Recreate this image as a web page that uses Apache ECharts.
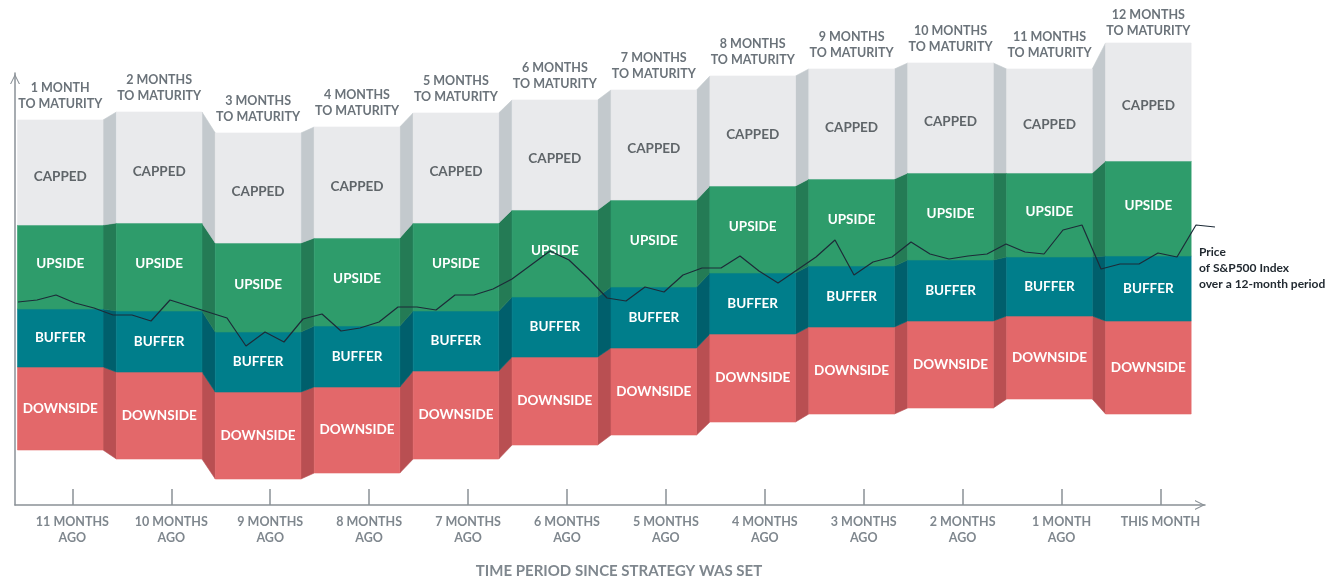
<!DOCTYPE html>
<html><head><meta charset="utf-8">
<script src="https://cdn.jsdelivr.net/npm/echarts@6/dist/echarts.min.js"></script>
<style>html,body{margin:0;padding:0;background:#fff}#c{width:1341px;height:578px}</style>
</head><body><div id="c"></div>
<script>
// ---- data ----
const maturityLabels = ['1 MONTH\nTO MATURITY','2 MONTHS\nTO MATURITY','3 MONTHS\nTO MATURITY','4 MONTHS\nTO MATURITY','5 MONTHS\nTO MATURITY','6 MONTHS\nTO MATURITY','7 MONTHS\nTO MATURITY','8 MONTHS\nTO MATURITY','9 MONTHS\nTO MATURITY','10 MONTHS\nTO MATURITY','11 MONTHS\nTO MATURITY','12 MONTHS\nTO MATURITY'];
const periodLabels = ['11 MONTHS\nAGO','10 MONTHS\nAGO','9 MONTHS\nAGO','8 MONTHS\nAGO','7 MONTHS\nAGO','6 MONTHS\nAGO','5 MONTHS\nAGO','4 MONTHS\nAGO','3 MONTHS\nAGO','2 MONTHS\nAGO','1 MONTH\nAGO','THIS MONTH'];
const segmentNames = ['DOWNSIDE','BUFFER','UPSIDE','CAPPED'];
// level boundaries per column (index level units)
const floorLevel  = [55, 46, 26, 32, 46, 60, 70, 83, 91, 97, 106, 91];
const downsideTop = [138,133,113,118,134,148,157,171,178,184,189,184];
const bufferTop   = [196,194,173,179,194,208,218,232,239,245,248,249];
const upsideTop   = [280,282,262,267,282,295,305,319,326,332,332,344];
const cappedTop   = [385,393,372,378,392,405,415,429,436,442,436,462];
// S&P500 price path over the 12-month period
const priceLevel = [203,205,210,202,197,190,190,184,205,199,193,187,159,173,163,186,191,174,177,183,198,198,195,210,210,216,226,240,254,245,227,207,204,218,213,230,237,237,249,234,222,235,248,265,230,243,248,263,251,246,249,251,261,253,251,275,280,236,241,241,252,248,280,278];

// ---- styles ----
const frontColors = ['#e3686a','#007e8b','#2e9c6b','#e9eaec'];
const sideColors  = ['#b94f52','#005f6c','#247b55','#c3c9cd'];
const labelColors = ['#ffffff','#ffffff','#ffffff','#5f6569'];
const labelShift  = [0, 0, -3, 4];
const FRONT_L = 0.555, FRONT_R = 0.31;
const FONT = 'Lato, "Open Sans", sans-serif';

const levels = [floorLevel, downsideTop, bufferTop, upsideTop, cappedTop];
const colData = floorLevel.map((_, i) => [i, floorLevel[i], downsideTop[i], bufferTop[i], upsideTop[i], cappedTop[i]]);

function renderItem(params, api) {
  const i = api.value(0);
  const lv = [api.value(1), api.value(2), api.value(3), api.value(4), api.value(5)];
  const xl = i - FRONT_L, xr = i + FRONT_R;
  const children = [];
  if (i < floorLevel.length - 1) {
    const nx = i + 1 - FRONT_L;
    const nl = levels.map(a => a[i + 1]);
    for (let s = 0; s < 4; s++) {
      children.push({
        type: 'polygon',
        shape: { points: [api.coord([xr, lv[s]]), api.coord([xr, lv[s + 1]]), api.coord([nx, nl[s + 1]]), api.coord([nx, nl[s]])] },
        style: { fill: sideColors[s], stroke: sideColors[s], lineWidth: 0.6 }
      });
    }
  }
  for (let s = 0; s < 4; s++) {
    const p1 = api.coord([xl, lv[s + 1]]);
    const p2 = api.coord([xr, lv[s]]);
    children.push({
      type: 'rect',
      shape: { x: p1[0], y: p1[1], width: p2[0] - p1[0], height: p2[1] - p1[1] },
      style: { fill: frontColors[s], stroke: frontColors[s], lineWidth: 0.6 }
    });
  }
  const cx = (xl + xr) / 2;
  for (let s = 0; s < 4; s++) {
    const p = api.coord([cx, (lv[s] + lv[s + 1]) / 2]);
    children.push({
      type: 'text',
      style: {
        text: segmentNames[s], x: p[0], y: p[1] + labelShift[s],
        align: 'center', verticalAlign: 'middle',
        font: 'bold 13.5px ' + FONT, fill: labelColors[s]
      }
    });
  }
  const pt = api.coord([cx, lv[4]]);
  children.push({
    type: 'text',
    style: {
      text: maturityLabels[i], x: pt[0], y: Math.max(pt[1] - 8, 39),
      align: 'center', verticalAlign: 'bottom', lineHeight: 16,
      font: 'bold 12.5px ' + FONT, fill: '#6b737a'
    }
  });
  return { type: 'group', children };
}

const chart = echarts.init(document.getElementById('c'), null, { renderer: 'canvas' });
const axisGray = '#8a9197';
const chevron = 'path://M0,12 L6,0 L12,12 L10.6,12 L6,2.8 L1.4,12 Z';
chart.setOption({
  animation: false,
  backgroundColor: '#ffffff',
  grid: [
    { left: 15, right: 136, top: 73, bottom: 73, outerBoundsMode: 'none', containLabel: false },
    { left: 18, right: 126, top: 73, bottom: 73, outerBoundsMode: 'none', containLabel: false }
  ],
  xAxis: [
    {
      type: 'value', gridIndex: 0, min: -0.58, max: 11.45,
      splitLine: { show: false },
      axisLine: { show: true, onZero: false, lineStyle: { color: axisGray, width: 1.5 }, symbol: ['none', chevron], symbolSize: [10, 12], symbolOffset: [0, -5] },
      axisTick: { show: true, inside: true, length: 16, customValues: periodLabels.map((_, i) => i), lineStyle: { color: axisGray, width: 1.5 } },
      axisLabel: {
        show: true, customValues: periodLabels.map((_, i) => i),
        formatter: v => periodLabels[Math.round(v)],
        margin: 9, lineHeight: 16, fontSize: 12.5, fontWeight: 'bold', fontFamily: FONT, color: '#7f878e'
      },
      name: 'TIME PERIOD SINCE STRATEGY WAS SET', nameLocation: 'middle', nameGap: 59,
      nameTextStyle: { color: '#7f878e', fontSize: 15, fontFamily: FONT, fontWeight: 'bold', padding: [0, 0, 0, 18] }
    },
    {
      type: 'category', gridIndex: 1, boundaryGap: false, data: priceLevel.map((_, k) => k), show: false
    }
  ],
  yAxis: [
    {
      type: 'value', gridIndex: 0, min: 0, max: 432,
      splitLine: { show: false }, axisTick: { show: false }, axisLabel: { show: false },
      axisLine: { show: true, onZero: false, lineStyle: { color: axisGray, width: 1.5 }, symbol: ['none', chevron], symbolSize: [10, 12], symbolOffset: [0, -6] }
    },
    { type: 'value', gridIndex: 1, min: 0, max: 432, show: false }
  ],
  graphic: [{
    type: 'text', left: 1199, top: 244, z: 10,
    style: { text: 'Price\nof S&P500 Index\nover a 12-month period', font: 'bold 12px ' + FONT, fill: '#222a31', lineHeight: 16 }
  }],
  series: [
    {
      type: 'custom', xAxisIndex: 0, yAxisIndex: 0, renderItem, clip: false,
      data: colData, z: 2, silent: true
    },
    {
      type: 'line', xAxisIndex: 1, yAxisIndex: 1, data: priceLevel, showSymbol: false, clip: false,
      lineStyle: { color: '#1d2b38', width: 1.2 }, z: 5, silent: true
    }
  ]
});
</script></body></html>
